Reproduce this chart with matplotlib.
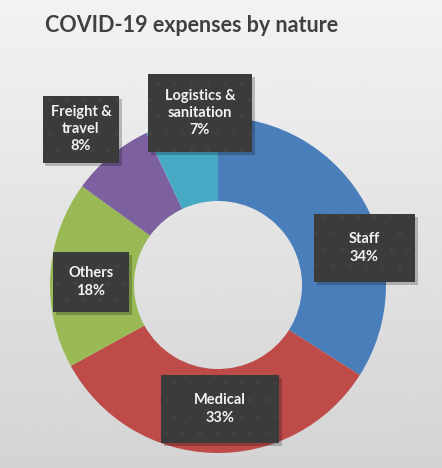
import matplotlib
matplotlib.use("Agg")
import matplotlib.pyplot as plt
import numpy as np
from matplotlib.patches import Rectangle

# data
categories = ["Staff", "Medical", "Others", "Freight &\ntravel", "Logistics &\nsanitation"]
shares = [34, 33, 18, 8, 7]
colors = ["#4a7ebb", "#be4b48", "#98b954", "#7d60a0", "#46aac5"]

# label box layout in pixels: centre x, centre y, width, height
box_layout = [
    (364, 248, 101, 68),
    (220, 409, 118, 68),
    (91, 282, 76, 60),
    (81, 129, 77, 67),
    (200, 113, 104, 78),
]

W, H = 442, 468
CX, CY, R = 218, 285, 168

plt.rcParams["font.family"] = ["Lato", "DejaVu Sans"]
plt.rcParams["hatch.linewidth"] = 0.6

fig = plt.figure(figsize=(W / 100, H / 100), dpi=100)

# background gradient
bg = fig.add_axes([0, 0, 1, 1])
grad = np.linspace(0.95, 0.83, 256).reshape(-1, 1)
bg.imshow(grad, cmap="gray", vmin=0, vmax=1, aspect="auto", extent=[0, 1, 0, 1])
bg.set_axis_off()

ax = fig.add_axes([(CX - R) / W, (H - CY - R) / H, 2 * R / W, 2 * R / H])
ax.set_facecolor("none")
ax.pie(shares, colors=colors, startangle=90, counterclock=False,
       radius=1, wedgeprops=dict(width=0.5, linewidth=0))
ax.set_xlim(-1, 1)
ax.set_ylim(-1, 1)
ax.set_aspect("equal")
ax.set_axis_off()


def px(x, y):
    return (x - CX) / R, (CY - y) / R


for cat, val, (bx, by, bw, bh) in zip(categories, shares, box_layout):
    x0, y0 = px(bx - bw / 2, by + bh / 2)
    w, h = bw / R, bh / R
    ax.add_patch(Rectangle((x0 + 3 / R, y0 - 3 / R), w, h, facecolor="black",
                           alpha=0.22, lw=0, zorder=3, clip_on=False))
    ax.add_patch(Rectangle((x0, y0), w, h, facecolor="#3b3b3b", edgecolor="#424242",
                           hatch=".", lw=0, zorder=4, clip_on=False))
    tx, ty = px(bx, by)
    ax.text(tx, ty, f"{cat}\n{val}%", ha="center", va="center", color="#f2f2f2",
            fontsize=10.5, fontweight="bold", linespacing=1.3, zorder=5)

fig.text(45 / W, 1 - 26 / H, "COVID-19 expenses by nature", ha="left", va="center",
         fontsize=15.5, fontweight="bold", color="#404040")

fig.savefig("out.png", dpi=100)
